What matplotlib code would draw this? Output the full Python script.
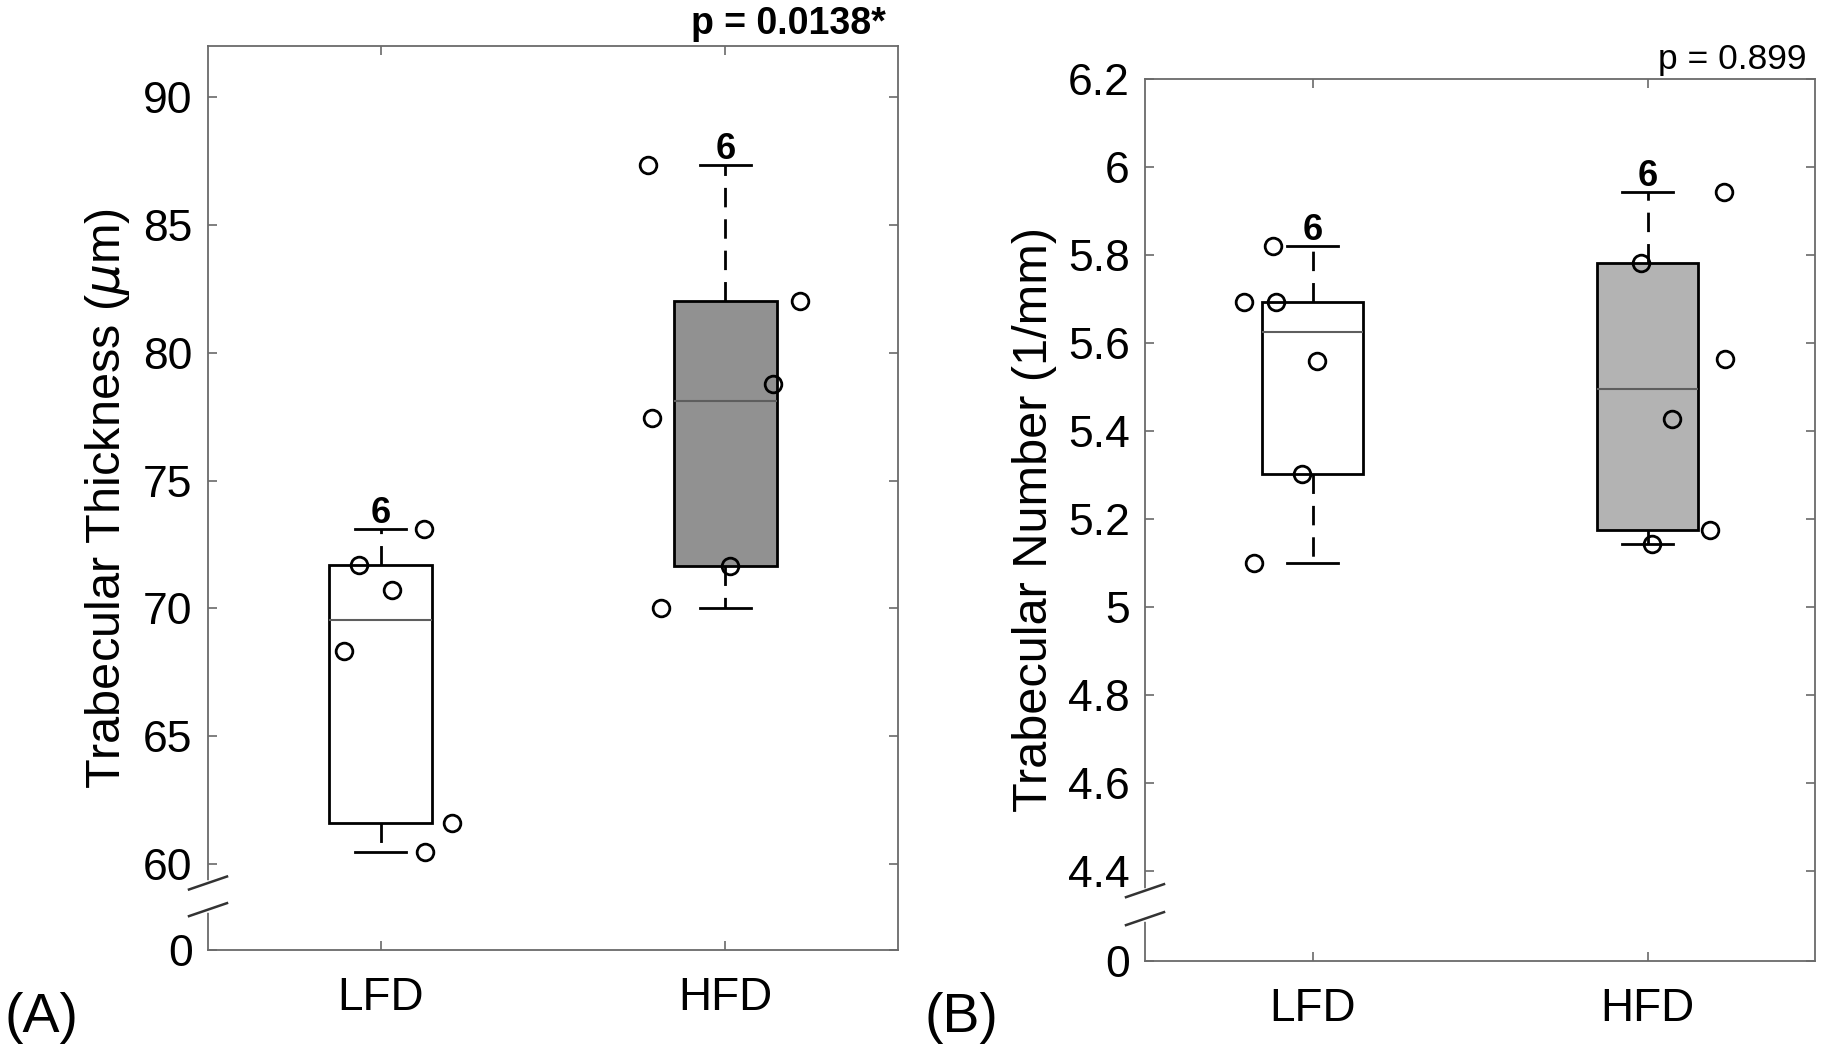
import numpy as np
import matplotlib.pyplot as plt

plt.rcParams['font.family'] = ['Liberation Sans', 'DejaVu Sans']

groups = ['LFD', 'HFD']

# (A) trabecular thickness, um
thick_lfd = [60.46, 61.60, 68.32, 70.74, 71.70, 73.12]
thick_hfd = [70.03, 71.65, 77.46, 78.78, 82.03, 87.36]
thick_lfd_jit = [0.128, 0.208, -0.106, 0.032, -0.0625, 0.127]
thick_hfd_jit = [-0.1875, 0.0135, -0.213, 0.139, 0.216, -0.225]
thick_ticks = [60, 65, 70, 75, 80, 85, 90]
thick_p = 'p = 0.0138*'

# (B) trabecular number, 1/mm
num_lfd = [5.099, 5.302, 5.560, 5.692, 5.692, 5.821]
num_hfd = [5.144, 5.175, 5.428, 5.564, 5.782, 5.944]
num_lfd_jit = [-0.175, -0.031, 0.014, -0.204, -0.108, -0.117]
num_hfd_jit = [0.012, 0.188, 0.073, 0.230, -0.019, 0.227]
num_ticks = [4.4, 4.6, 4.8, 5.0, 5.2, 5.4, 5.6, 5.8, 6.0, 6.2]
num_p = 'p = 0.899'

W, H = 1830, 1050
fig = plt.figure(figsize=(W / 100, H / 100), dpi=100)
spine_col = '#6a6a6a'


def box_stats(vals):
    v = np.sort(np.asarray(vals))
    q1, med, q3 = np.percentile(v, [25, 50, 75], method='hazen')
    iqr = q3 - q1
    return dict(med=med, q1=q1, q3=q3,
                whislo=v[v >= q1 - 1.5 * iqr].min(),
                whishi=v[v <= q3 + 1.5 * iqr].max(), fliers=[])


def draw_break(ax, ylo, yhi, first):
    pos = ax.get_position()
    w_px, h_px = pos.width * W, pos.height * H
    fy = lambda y: (y - ylo) / (yhi - ylo)
    gap = first - ylo
    c1 = fy(first - 0.22 * gap)
    c2 = fy(first - 0.53 * gap)
    ax.plot([0, 0], [c2, c1], color='white', lw=4, transform=ax.transAxes,
            clip_on=False, zorder=5)
    dx, dy = 19 / w_px, 6.5 / h_px
    for c in (c1, c2):
        ax.plot([-dx, dx], [c - dy, c + dy], color='#333333', lw=1.8,
                transform=ax.transAxes, clip_on=False, zorder=6)


def panel(rect, data, jit, fills, ticks, ylo, yhi, ylabel, ptext, pbold, psize, poff):
    ax = fig.add_axes(rect)
    stats = [box_stats(d) for d in data]
    bp = ax.bxp(stats, positions=[1, 2], widths=0.3, capwidths=0.15,
                patch_artist=True, showfliers=False, manage_ticks=False,
                boxprops=dict(edgecolor='black', linewidth=2),
                whiskerprops=dict(color='black', linewidth=2, linestyle=(0, (7, 4.3))),
                capprops=dict(color='black', linewidth=2),
                medianprops=dict(color='#5e5e5e', linewidth=1.5))
    for patch, fc in zip(bp['boxes'], fills):
        patch.set_facecolor(fc)
    for i, (d, j) in enumerate(zip(data, jit)):
        x = i + 1 + np.asarray(j)
        ax.plot(x, d, 'o', mfc='none', mec='black', ms=12, mew=2, zorder=4)
        ax.annotate(str(len(d)), xy=(i + 1, stats[i]['whishi']), xytext=(0, 4),
                    textcoords='offset points', ha='center', va='baseline',
                    fontsize=26, fontweight='bold')
    ax.set_xlim(0.5, 2.5)
    ax.set_ylim(ylo, yhi)
    ax.set_xticks([1, 2], groups)
    ax.set_yticks([ylo] + ticks, ['0'] + ['%g' % t for t in ticks])
    ax.tick_params(direction='in', length=6.5, width=1.2, color=spine_col,
                   top=True, right=True, labelsize=32)
    ax.tick_params(axis='y', pad=11)
    ax.tick_params(axis='x', pad=19, labelsize=33)
    for s in ax.spines.values():
        s.set_color(spine_col)
        s.set_linewidth(1.3)
    ax.set_ylabel(ylabel, fontsize=35, labelpad=8)
    ax.annotate(ptext, xy=(1, 1), xycoords='axes fraction', xytext=poff,
                textcoords='offset points', ha='right', va='baseline',
                fontsize=psize, fontweight='bold' if pbold else 'normal')
    draw_break(ax, ylo, yhi, ticks[0])
    return ax


panel([208 / W, 1 - 950 / H, 690 / W, 904 / H],
      [thick_lfd, thick_hfd], [thick_lfd_jit, thick_hfd_jit],
      ['white', '#919191'], thick_ticks, 56.64, 92,
      r'Trabecular Thickness ($\mu$m)', thick_p, True, 27, (-9, 9))

panel([1145 / W, 1 - 961 / H, 670 / W, 882 / H],
      [num_lfd, num_hfd], [num_lfd_jit, num_hfd_jit],
      ['white', '#b3b3b3'], num_ticks, 4.195, 6.2,
      'Trabecular Number (1/mm)', num_p, False, 25.5, (-6, 7))

fig.text(4 / W, 1 - 1032 / H, '(A)', fontsize=40, va='baseline')
fig.text(925 / W, 1 - 1032 / H, '(B)', fontsize=40, va='baseline')

fig.savefig('out.png', dpi=100)
